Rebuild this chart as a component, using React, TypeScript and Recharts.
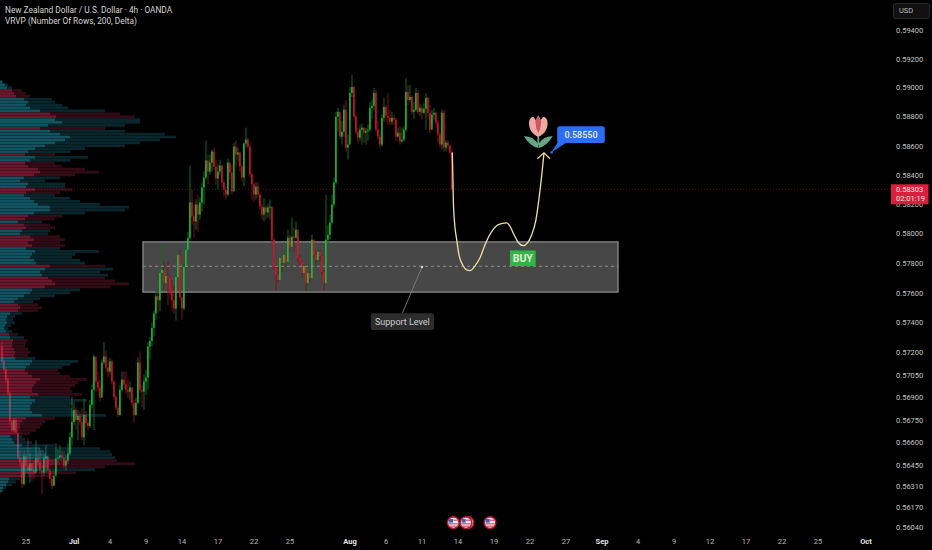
import React from "react";
import { ComposedChart, XAxis, YAxis, Bar, Line, Cell, ReferenceArea, ReferenceLine, ReferenceDot } from "recharts";

const W = 932, H = 550;
const FONT = "Roboto, sans-serif";
const PRICE_DOMAIN = [0.56004, 0.59609];
const TIME_DOMAIN = [0, 445.5];
const LAST_PRICE = 0.58303;
const FIRST_OPEN = 57240;

const priceTicks = [0.594,0.592,0.59,0.588,0.586,0.584,0.582,0.58,0.578,0.576,0.574,0.572,0.5705,0.569,0.5675,0.566,0.5645,0.5631,0.5617,0.5604,LAST_PRICE];
const timeTicks = [13,37,55,73,91,109,127,145,175,193,211,229,247,265,283,301,319,337,355,373,391,409,433];
const timeLabels = ["25","Jul","4","9","14","17","22","25","Aug","6","11","14","19","22","27","Sep","4","9","12","17","22","25","Oct"];
const monthLabels = ["Jul","Aug","Sep","Oct"];

// 4h candles, price x 100000
const closes = [
57140,57086,57019,56931,56736,56683,56750,56663,56501,56468,
56326,56508,56447,56414,56461,56414,56400,56494,56468,56414,
56400,56494,56508,56414,56360,56313,56380,56494,56501,56515,
56501,56447,56481,56528,56635,56736,56817,56750,56777,56736,
56635,56783,56730,56710,56851,56951,57173,57005,56965,56898,
57133,57173,57100,57072,57140,57005,56904,56831,56783,56951,
57019,56985,56951,56938,56965,56864,56783,56864,57133,56951,
56938,57005,57032,57240,57277,57365,57462,57577,57550,57735,
57755,57667,57714,57700,57618,57550,57495,57707,57857,57570,
57495,57775,57892,57972,58213,58117,58083,58199,58131,58213,
58315,58383,58500,58424,58486,58561,58458,58377,58424,58465,
58349,58301,58267,58486,58417,58288,58595,58540,58554,58458,
58383,58616,58643,58595,58404,58336,58267,58322,58267,58185,
58131,58179,58145,58179,58185,57960,57769,57721,57687,57837,
57803,57857,57810,57974,57912,57980,57974,58028,57837,57810,
57734,57782,57667,57734,57700,57960,57857,57823,57878,57850,
57741,57667,57960,57994,58076,58199,58349,58800,58834,58663,
58697,58848,58588,58609,58964,59005,58800,58697,58656,58711,
58725,58690,58704,58711,58861,58875,58964,58711,58663,58609,
58793,58868,58807,58793,58766,58793,58780,58663,58690,58630,
58643,58711,58971,58916,58936,58834,58848,58964,58834,58861,
58827,58855,58930,58827,58711,58814,58827,58759,58677,58609,
58827,58588,58622,58602,58554,58303];

const highs = [
57270,57153,57100,57030,56938,56750,56763,56763,56670,56548,
56501,56535,56515,56629,56528,56468,56481,56615,56535,56562,
56447,56515,56582,56515,56427,56414,56414,56595,56555,56582,
56548,56541,56515,56595,56670,56904,56851,56831,56817,56810,
56831,56891,56810,56750,56884,56985,57187,57140,57072,57019,
57153,57270,57214,57153,57166,57153,57019,56918,56851,56985,
57072,57072,57072,57019,57005,56965,56884,56898,57166,57207,
56985,57052,57086,57270,57304,57400,57482,57618,57618,57769,
57933,57810,57755,57810,57721,57687,57653,57741,57892,57892,
57584,57810,57919,58013,58465,58301,58199,58233,58267,58247,
58350,58424,58636,58540,58540,58575,58588,58506,58472,58506,
58472,58370,58322,58513,58472,58472,58622,58636,58588,58561,
58472,58622,58725,58657,58609,58417,58350,58350,58350,58281,
58199,58240,58192,58206,58233,58185,57974,57789,57775,57857,
57837,57878,57857,58028,57994,58111,58042,58083,57994,57857,
57823,57810,57796,57769,57755,57994,57940,57892,57926,57892,
57857,57755,58267,58062,58131,58267,58383,58834,58861,58780,
58773,58882,58916,58677,59005,59087,59012,58814,58725,58745,
58752,58725,58725,58745,58902,58916,58998,58984,58773,58711,
58814,58930,58882,58964,58848,58834,58814,58793,58725,58738,
58725,58738,59067,59019,59019,58950,58902,58998,58984,58889,
58875,58895,58964,58936,58882,58848,58861,58834,58780,58697,
58848,58848,58643,58636,58609,58575];

const lows = [
57110,57065,56998,56911,56716,56670,56670,56649,56488,56441,
56300,56313,56400,56394,56333,56347,56360,56441,56447,56394,
56259,56380,56400,56394,56333,56293,56320,56400,56468,56481,
56454,56427,56414,56461,56515,56582,56716,56683,56615,56716,
56615,56582,56696,56683,56696,56831,56683,56938,56938,56871,
56938,57119,57072,57032,57052,56985,56884,56817,56770,56777,
56938,56965,56925,56898,56884,56844,56730,56777,56851,56931,
56837,56817,56918,56951,57153,57243,57311,57420,57468,57475,
57653,57618,57618,57516,57584,57482,57461,57414,57687,57550,
57421,57482,57755,57878,57960,58062,57972,58028,58013,58097,
58150,58199,58370,58336,58404,58424,58438,58336,58301,58404,
58315,58253,58233,58253,58370,58267,58472,58452,58493,58424,
58356,58322,58588,58575,58383,58233,58220,58233,58247,58165,
58097,58083,58097,58111,58097,57940,57755,57618,57667,57707,
57741,57741,57782,57789,57878,57960,57878,57960,57810,57789,
57707,57687,57618,57618,57673,57687,57837,57789,57789,57810,
57721,57618,57653,57926,57960,58062,58179,58336,58697,58643,
58609,58663,58561,58506,58780,58936,58780,58677,58622,58636,
58609,58622,58609,58636,58697,58787,58848,58697,58643,58588,
58595,58766,58766,58745,58745,58745,58745,58630,58656,58609,
58622,58630,58697,58882,58902,58814,58787,58834,58814,58807,
58780,58814,58711,58800,58690,58745,58780,58725,58622,58588,
58575,58561,58561,58575,58533,58288];

// VRVP rows: price x 100000, total volume, signed delta
const vpPrices = [
59040,59020,59000,58980,58960,58940,58920,58900,58880,58860,
58840,58820,58800,58780,58760,58740,58720,58700,58680,58660,
58640,58620,58600,58580,58560,58540,58520,58500,58480,58460,
58440,58420,58400,58380,58360,58340,58320,58300,58280,58260,
58240,58220,58200,58180,58160,58140,58120,58100,58080,58060,
58040,58020,58000,57980,57960,57940,57920,57900,57880,57860,
57840,57820,57800,57780,57760,57740,57720,57700,57680,57660,
57640,57620,57600,57580,57560,57540,57520,57500,57480,57460,
57440,57420,57400,57380,57360,57340,57320,57300,57280,57260,
57240,57220,57200,57180,57160,57140,57120,57100,57080,57060,
57040,57020,57000,56980,56960,56940,56920,56900,56880,56860,
56840,56820,56800,56780,56760,56740,56720,56700,56680,56660,
56640,56620,56600,56580,56560,56540,56520,56500,56480,56460,
56440,56420,56400,56380,56360,56340,56320,56300,56280];

const vpTotals = [
3,8,12,22,26,30,52,55,62,68,
105,120,135,140,140,125,105,125,165,176,
160,140,125,85,70,55,88,70,55,62,
85,99,75,60,45,65,65,72,60,55,
70,80,100,129,125,85,62,55,42,50,
55,50,48,60,65,60,65,60,99,75,
72,80,85,105,113,100,108,105,115,129,
110,80,70,55,40,33,38,42,38,22,
15,13,15,11,8,12,18,24,27,26,
25,28,30,28,35,78,70,62,58,60,
70,87,78,75,70,72,82,70,87,75,
70,72,75,106,55,45,42,40,36,30,
22,25,32,55,100,110,112,115,117,135,
105,95,76,50,20,16,12,6,3];

const vpDeltas = [
2,5,7,-12,-14,-16,24,28,26,30,
40,-50,-56,55,62,48,-40,50,60,70,
65,55,45,35,28,-25,35,30,-25,-28,
-38,-40,-34,24,20,28,26,-35,-26,24,
30,34,38,50,50,34,-28,-25,18,-24,
-26,22,20,-30,-34,-28,-32,26,35,32,
30,34,36,-50,45,40,42,-48,-52,-55,
-45,32,30,24,18,14,-18,-20,-18,10,
7,6,7,5,4,6,-9,10,-13,-12,
-12,-14,-15,-14,15,32,30,26,-25,-28,
-32,-40,-36,-34,-32,-32,-38,30,35,32,
30,30,32,42,-26,-22,-20,-20,-18,-15,
10,12,14,22,40,44,46,48,-55,-60,
-48,38,-36,-24,9,8,6,3,2];

// hand-drawn projection
const curveTimes = [226.15,226.4,226.65,227.15,228.35,229.5,231.35,233.35,235,237.5,240,242.5,245.85,249.15,253.35,255,257,259.15,261.65,263.65,265.85,268,269.65,271,272];
const curvePrices = [58554,58418,58233,58097,57960,57857,57789,57755,57750,57782,57837,57926,58015,58062,58074,58051,57994,57941,57920,57937,57994,58097,58256,58416,58552];
const arrowTimes = [268.65,272,275];
const arrowPrices = [58512,58552,58512];

const ZONE = { from: 71.5, to: 309, low: 0.57606, high: 0.57945, mid: 0.5778 };
const eventTimes = [226.65, 234, 233, 245];
const EVENT_PRICE = 0.56072;

const candleRows = closes.map((c, idx) => {
  const o = idx === 0 ? FIRST_OPEN : closes[idx - 1];
  return {
    i: idx + 1,
    up: c >= o,
    wick: [lows[idx] / 1e5, highs[idx] / 1e5],
    body: [Math.min(o, c) / 1e5, Math.max(o, c) / 1e5],
  };
});
const curveRows = curveTimes.map((i, k) => ({ i, price: curvePrices[k] / 1e5 }));
const arrowRows = arrowTimes.map((i, k) => ({ i, price: arrowPrices[k] / 1e5 }));
const vpRows = vpPrices.map((p, k) => ({
  price: p / 1e5,
  up: vpDeltas[k] > 0,
  inner: Math.abs(vpDeltas[k]),
  outer: vpTotals[k] - Math.abs(vpDeltas[k]),
}));

const WickShape = (p: any) => (
  <rect x={p.x + p.width / 2 - 0.5} y={p.y} width={1} height={Math.max(p.height, 1)} fill={p.payload.up ? "#116a25" : "#7c1024"} />
);
const BodyShape = (p: any) => (
  <rect x={p.x + p.width / 2 - 0.65} y={p.y} width={1.3} height={Math.max(p.height, 1)} fill={p.payload.up ? "#1fd13c" : "#e8142f"} />
);

const PriceTick = (p: any) => {
  const v = p.payload.value;
  if (v === LAST_PRICE) {
    return (
      <g>
        <rect x={p.x} y={p.y - 5} width={37.5} height={20} fill="#d91f3c" />
        <text x={p.x + 5} y={p.y + 2.5} fontSize={7.5} fontFamily={FONT} fill="#f4e6e6">{v.toFixed(5)}</text>
        <text x={p.x + 5} y={p.y + 12} fontSize={7.5} fontFamily={FONT} fill="#f4e6e6">02:01:19</text>
      </g>
    );
  }
  return <text x={p.x + 5} y={p.y + 2.7} fontSize={7.5} fontFamily={FONT} fill="#c4c4c4">{v.toFixed(5)}</text>;
};

const TimeTick = (p: any) => {
  const label = timeLabels[timeTicks.indexOf(p.payload.value)];
  const month = monthLabels.includes(label);
  return (
    <text x={p.x} y={543.5} textAnchor="middle" fontSize={7.5} fontFamily={FONT} fontWeight={month ? 700 : 400} fill={month ? "#e6e6e6" : "#b8b8b8"}>{label}</text>
  );
};

const SupportLabel = (p: any) => (
  <g>
    <rect x={p.cx - 31.6} y={p.cy - 8.3} width={63.2} height={16.6} rx={2.5} fill="#2c2c2c" />
    <text x={p.cx} y={p.cy + 3} textAnchor="middle" fontSize={9} fontFamily={FONT} fill="#cfcfcf">Support Level</text>
  </g>
);
const BuyLabel = (p: any) => (
  <g>
    <rect x={p.cx - 12.8} y={p.cy - 7.8} width={25.6} height={15.6} fill="#2eb746" />
    <text x={p.cx} y={p.cy + 3.7} textAnchor="middle" fontSize={10.5} fontWeight={700} fontFamily={FONT} fill="#e8ecd8">BUY</text>
  </g>
);
const TargetLabel = (p: any) => (
  <g>
    <path d={`M${p.cx - 23},${p.cy + 7} L${p.cx - 15},${p.cy + 8} L${p.cx - 29.3},${p.cy + 17.7} Z`} fill="#2a6ef2" />
    <circle cx={p.cx - 29.3} cy={p.cy + 17.7} r={1.3} fill="#2a6ef2" />
    <rect x={p.cx - 23.8} y={p.cy - 8.3} width={47.6} height={16.6} rx={2.5} fill="#2a6ef2" />
    <text x={p.cx} y={p.cy + 3.2} textAnchor="middle" fontSize={9} fontWeight={500} fontFamily={FONT} fill="#efe9cf">0.58550</text>
  </g>
);
const Tulip = (p: any) => (
  <g transform={`translate(${p.cx},${p.cy})`}>
    <rect x={-0.9} y={3} width={1.8} height={11} fill="#64a685" />
    <path d="M-14.4,5 Q-6,4.5 -0.6,12 L0,16.8 Q-8,15.5 -14.4,5Z" fill="#64a685" />
    <path d="M14.4,5 Q6,4.5 0.6,12 L0,16.8 Q8,15.5 14.4,5Z" fill="#64a685" />
    <path d="M-9.3,-8 C-9.3,-12.5 -6.5,-15 -4.5,-14 L-2.5,-11 L0,-15.7 L2.5,-11 L4.5,-14 C6.5,-15 9.3,-12.5 9.3,-8 C9.3,-1 5,3.5 0,5.5 C-5,3.5 -9.3,-1 -9.3,-8Z" fill="#eda9a1" />
    <path d="M0,-15.7 L3,-10 L2,-3 L0,2 L-2,-3 L-3,-10Z" fill="#cf5660" />
  </g>
);
const EventFlag = (p: any) => (
  <g transform={`translate(${p.cx},${p.cy})`}>
    <circle r={5.8} fill="#e8e8f0" stroke="#b31c3a" strokeWidth={1.6} />
    <rect x={-4.3} y={-3.6} width={4} height={3.6} fill="#3c62b8" />
    <rect x={0} y={-3} width={4.4} height={1.2} fill="#d8505e" />
    <rect x={-4.6} y={0.6} width={9.2} height={1.2} fill="#d8505e" />
    <rect x={-3.6} y={3} width={7.2} height={1.1} fill="#d8505e" />
  </g>
);

export default function App() {
  return (
    <div style={{ position: "fixed", left: 0, top: 0, width: W, height: H, background: "#000", overflow: "hidden" }}>
      <div style={{ position: "absolute", left: 0, top: 0 }}>
        <ComposedChart width={W} height={H} data={candleRows} margin={{ top: 0, right: 0, bottom: 0, left: 0 }}>
          <XAxis dataKey="i" type="number" domain={TIME_DOMAIN} allowDataOverflow ticks={timeTicks} interval={0} height={17} tick={TimeTick} tickLine={false} axisLine={false} tickSize={0} tickMargin={0} />
          <XAxis xAxisId="body" dataKey="i" type="number" domain={TIME_DOMAIN} allowDataOverflow hide />
          <YAxis orientation="right" type="number" scale="log" domain={PRICE_DOMAIN} allowDataOverflow ticks={priceTicks} interval={0} width={41} tick={PriceTick} tickLine={false} axisLine={false} tickSize={0} tickMargin={0} />
          <ReferenceLine y={LAST_PRICE} stroke="#6e1622" strokeDasharray="1 2" strokeWidth={0.8} />
          <Bar dataKey="wick" barSize={2} shape={WickShape} isAnimationActive={false} />
          <Bar dataKey="body" xAxisId="body" barSize={2} shape={BodyShape} isAnimationActive={false} />
          <ReferenceArea x1={ZONE.from} x2={ZONE.to} y1={ZONE.low} y2={ZONE.high} fill="#ffffff" fillOpacity={0.28} stroke="#8c8c8c" strokeWidth={1.3} ifOverflow="visible" />
          <ReferenceLine segment={[{ x: ZONE.from, y: ZONE.mid }, { x: ZONE.to, y: ZONE.mid }]} stroke="#8f8f8f" strokeDasharray="3 3" strokeWidth={1} />
          <ReferenceLine segment={[{ x: 201.2, y: 0.57464 }, { x: 211, y: 0.57775 }]} stroke="#7d7d7d" strokeWidth={0.9} />
          <ReferenceDot x={211} y={0.57775} r={1.3} fill="#c8c8c8" stroke="none" />
          <ReferenceDot x={201.2} y={0.57407} r={1} shape={SupportLabel} />
          <Line data={curveRows} dataKey="price" type="monotone" stroke="#f0dfa8" strokeWidth={1.3} dot={false} isAnimationActive={false} />
          <Line data={arrowRows} dataKey="price" type="linear" stroke="#f0dfa8" strokeWidth={1.2} dot={false} isAnimationActive={false} />
          <ReferenceDot x={261.4} y={0.57834} r={1} shape={BuyLabel} />
          <ReferenceDot x={290.5} y={0.58677} r={1} shape={TargetLabel} />
          <ReferenceDot x={269.15} y={0.587} r={1} shape={Tulip} />
          {eventTimes.map((t) => (
            <ReferenceDot key={t} x={t} y={EVENT_PRICE} r={1} shape={EventFlag} />
          ))}
        </ComposedChart>
      </div>
      <div style={{ position: "absolute", left: 0, top: 0 }}>
        <ComposedChart layout="vertical" width={W} height={H} data={vpRows} margin={{ top: 0, right: 41, bottom: 17, left: 0 }} barCategoryGap={0}>
          <XAxis type="number" domain={[0, 891]} allowDataOverflow hide />
          <YAxis dataKey="price" type="number" scale="log" reversed domain={PRICE_DOMAIN} allowDataOverflow hide />
          <Bar dataKey="inner" stackId="vp" barSize={2.7} isAnimationActive={false}>
            {vpRows.map((r) => (
              <Cell key={r.price} fill={r.up ? "rgba(32,160,185,0.52)" : "rgba(215,45,90,0.5)"} />
            ))}
          </Bar>
          <Bar dataKey="outer" stackId="vp" barSize={2.7} isAnimationActive={false}>
            {vpRows.map((r) => (
              <Cell key={r.price} fill={r.up ? "rgba(32,160,185,0.24)" : "rgba(215,45,90,0.24)"} />
            ))}
          </Bar>
        </ComposedChart>
      </div>
      <div style={{ position: "absolute", left: 5, top: 5, fontFamily: FONT, fontSize: 8.3, lineHeight: "11px", color: "#d4d4d4", whiteSpace: "nowrap" }}>
        <div>New Zealand Dollar / U.S. Dollar · 4h · OANDA</div>
        <div>VRVP (Number Of Rows, 200, Delta)</div>
      </div>
      <div style={{ position: "absolute", left: 893, top: 3, width: 37, height: 16, boxSizing: "border-box", border: "1px solid #2a2a2a", borderRadius: 3, background: "#111", fontFamily: FONT, fontSize: 7.5, lineHeight: "14px", color: "#bdbdbd", paddingLeft: 5 }}>USD</div>
    </div>
  );
}
